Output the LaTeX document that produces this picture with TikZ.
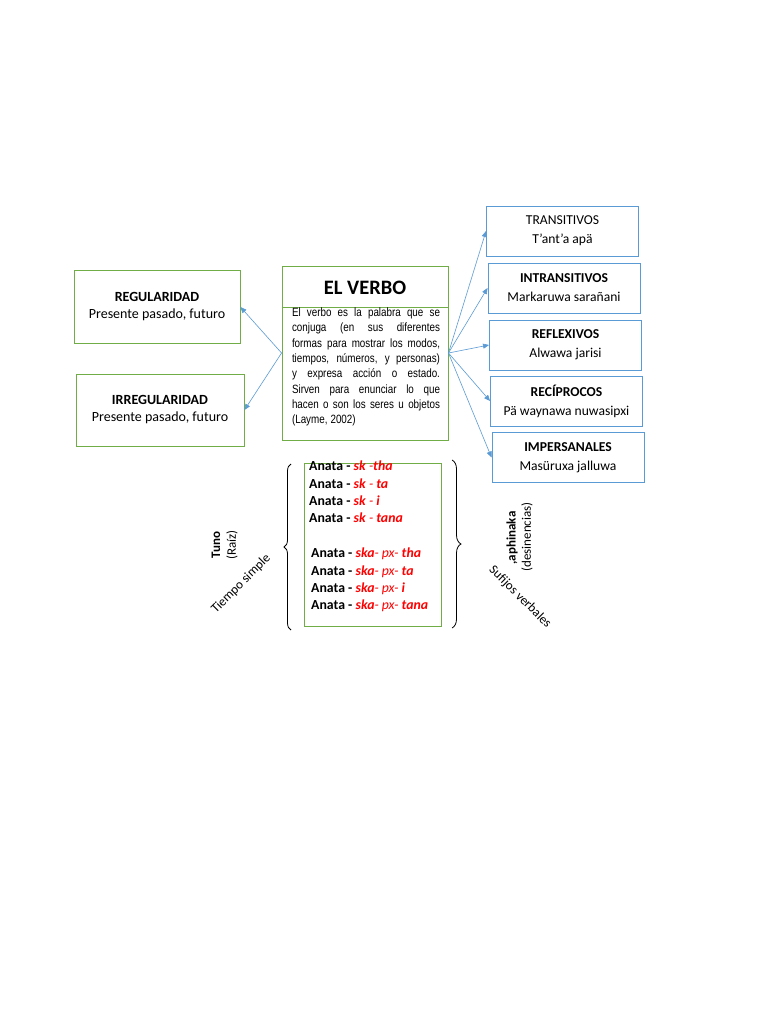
\documentclass[tikz,border=0pt]{standalone}
\usepackage{fontspec}
\setmainfont{Carlito}
\newfontfamily\narrowfont[FakeStretch=0.82]{Liberation Sans}
\usetikzlibrary{positioning,arrows.meta,decorations.pathreplacing}
\definecolor{vgreen}{HTML}{70AD47}
\definecolor{vblue}{HTML}{5B9BD5}
\definecolor{vred}{HTML}{FF0000}
\newcommand{\rojo}[1]{\textcolor{vred}{\textbf{\textit{#1}}}}
\newcommand{\rojofino}[1]{\textcolor{vred}{\mdseries\textit{#1}}}
\newcommand{\jline}[1]{\hbox to 148pt{\spaceskip=0.25em plus 1fil\relax #1}}
\begin{document}
\begin{tikzpicture}[x=1pt,y=-1pt,
  greenbox/.style={draw=vgreen,line width=0.9pt,minimum width=166pt,minimum height=73pt,align=center,font=\fontsize{14}{17}\selectfont},
  bluebox/.style={draw=vblue,line width=0.9pt,minimum width=152pt,minimum height=50pt,align=center,font=\fontsize{13.6}{19}\selectfont},
  arrow/.style={-{Triangle[length=6pt,width=5pt]},draw=vblue,line width=0.6pt},
  brace/.style={decorate,decoration={brace,amplitude=7pt},line width=0.8pt},
  side/.style={font=\fontsize{13}{14}\selectfont}
]
\path[use as bounding box,fill=white] (0,0) rectangle (768,1024);
% central box
\node[greenbox,minimum height=174pt] (verbo) at (365,353) {};
\draw[vgreen,line width=0.9pt] (verbo.north west) ++(0,42) -- ++(166,0);
\node[font=\fontsize{20.5}{22}\selectfont\bfseries] (titulo) at (365,288) {EL VERBO};
\node[text width=148pt,inner sep=0pt,font=\narrowfont\fontsize{12}{15.3}\selectfont] (def) at (366,367) {%
\jline{El verbo es la palabra que se}
\jline{conjuga (en sus diferentes}
\jline{formas para mostrar los modos,}
\jline{tiempos, números, y personas)}
\jline{y expresa acción o estado.}
\jline{Sirven para enunciar lo que}
\jline{hacen o son los seres u objetos}
\jline{(Layme, 2002)\hfill}};
% left boxes
\node[greenbox] (reg) at (157,307) {\textbf{REGULARIDAD}\\Presente pasado, futuro};
\node[greenbox,minimum width=168pt,minimum height=72pt] (irreg) at (160,410) {\textbf{IRREGULARIDAD}\\Presente pasado, futuro};
% right boxes
\node[bluebox] (trans) at (562.5,231) {TRANSITIVOS\\T’ant’a apä};
\node[bluebox] (intrans) at (564,288) {\textbf{INTRANSITIVOS}\\Markaruwa sarañani};
\node[bluebox] (refl) at (565.5,345) {\textbf{REFLEXIVOS}\\Alwawa jarisi};
\node[bluebox] (recip) at (566.5,401) {\textbf{RECÍPROCOS}\\Pä waynawa nuwasipxi};
\node[bluebox] (imper) at (568,457.5) {\textbf{IMPERSANALES}\\Masüruxa jalluwa};
\draw[arrow] (verbo.west) -- (reg.east);
\draw[arrow] (verbo.west) -- (irreg.east);
\foreach \dest in {trans,intrans,refl,recip,imper}
  \draw[arrow] (verbo.east) -- (\dest.west);
% conjugations
\node[draw=vgreen,line width=0.9pt,minimum width=137pt,minimum height=163pt] (conj) at (372.5,544.5) {};
\node[anchor=west,align=left,inner sep=0pt,font=\fontsize{13.8}{17.4}\selectfont\bfseries] (anata) at (309,536.5) {%
Anata - \rojo{sk} \rojofino{-}\rojo{tha}\\
Anata - \rojo{sk} \rojofino{-} \rojo{ta}\\
Anata - \rojo{sk} \rojofino{-} \rojo{i}\\
Anata - \rojo{sk} \rojofino{-} \rojo{tana}\\[17.4pt]
\hspace*{2pt}Anata - \rojo{ska}\rojofino{- px-} \rojo{tha}\\
\hspace*{2pt}Anata - \rojo{ska}\rojofino{- px-} \rojo{ta}\\
\hspace*{2pt}Anata - \rojo{ska}\rojofino{- px-} \rojo{i}\\
\hspace*{2pt}Anata - \rojo{ska}\rojofino{- px-} \rojo{tana}};
% braces
\coordinate (lb1) at (291,630);
\coordinate (lb2) at (291,464);
\coordinate (rb1) at (452,460);
\coordinate (rb2) at (452,628);
\draw[brace] (lb1) -- (lb2);
\draw[brace,decoration={amplitude=9pt}] (rb1) -- (rb2);
\node[side,rotate=90,font=\fontsize{13}{14}\selectfont\bfseries] (tuno) at (216,545) {Tuno};
\node[side,rotate=90] (raiz) at (232,545) {(Raíz)};
\node[side,rotate=45] (tiempo) at (241,584) {Tiempo simple};
\node[side,rotate=90,font=\fontsize{13}{14}\selectfont\bfseries] (aphinaka) at (512,538) {,aphinaka};
\node[side,rotate=90] (desin) at (527,537) {(desinencias)};
\node[side,rotate=-45] (sufijos) at (520,597) {Sufijos verbales};
\end{tikzpicture}
\end{document}
